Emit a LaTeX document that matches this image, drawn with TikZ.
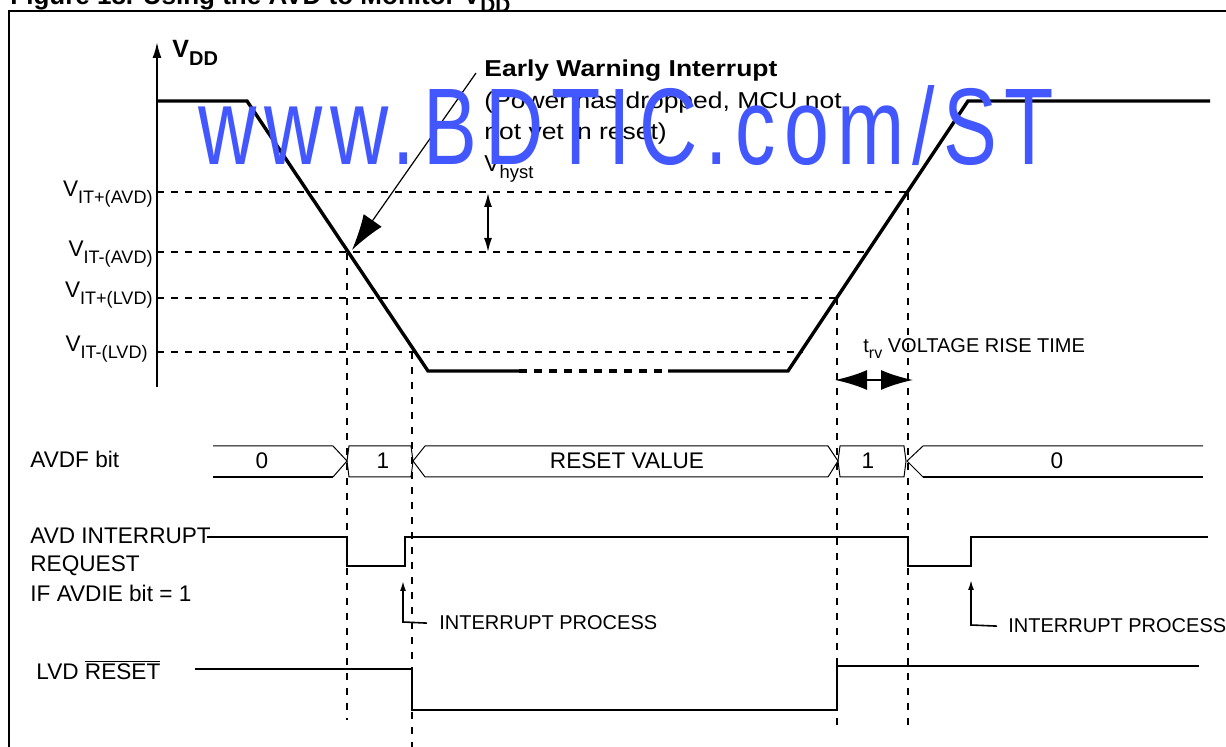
\documentclass[tikz,border=0pt]{standalone}
\usepackage{fontspec}
\setmainfont{Liberation Sans}
\usepackage{graphicx}
\usetikzlibrary{arrows.meta}
\definecolor{wmblue}{RGB}{66,87,255}
\newcommand{\lowsub}[1]{\raisebox{-0.3em}{\scalebox{0.8}{#1}}}

\begin{document}
\begin{tikzpicture}[x=0.5pt,y=-0.5pt,
  lbl/.style={inner sep=0pt, font=\fontsize{11.3}{13}\selectfont},
  smalllbl/.style={inner sep=0pt, font=\fontsize{10}{12}\selectfont},
  ewtext/.style={inner sep=0pt, anchor=base west, xscale=1.15, font=\fontsize{11.5}{13}\selectfont},
  vwave/.style={line width=1.7pt, line join=miter},
  vlevel/.style={line width=0.8pt, dash pattern=on 3.5pt off 3.5pt},
  vguide/.style={line width=1pt, dash pattern=on 3.5pt off 4pt},
  sig/.style={line width=1pt},
  bus/.style={line width=0.5pt},
  busbot/.style={line width=1pt}]
\useasboundingbox (0,0) rectangle (1226,747);
% frame and (cut) caption
\draw[line width=1pt] (9,747) -- (9,11) -- (1226,11);
\node[inner sep=0pt, anchor=base west, font=\bfseries\fontsize{13}{15}\selectfont] (title) at (10,5) {Figure 18. Using the AVD to Monitor V\lowsub{DD}};
% V_DD axis
\draw[line width=1pt, -{Latex[length=8pt,width=4.5pt]}] (157,387) -- (157,42);
\node[inner sep=0pt, anchor=base west, font=\bfseries\fontsize{12.5}{14}\selectfont] (vdd) at (172,58) {V\lowsub{DD}};
% threshold levels
\draw[vlevel] (157,192) -- (907,192);
\draw[vlevel] (157,252) -- (870,252);
\draw[vlevel] (157,298) -- (838,298);
\draw[vlevel] (157,352) -- (803,352);
\node[lbl, anchor=base east] (itpavd) at (153,197) {V\lowsub{IT+(AVD)}};
\node[lbl, anchor=base east] (itmavd) at (153,257) {V\lowsub{IT-(AVD)}};
\node[lbl, anchor=base east] (itplvd) at (153,298) {V\lowsub{IT+(LVD)}};
\node[lbl, anchor=base east] (itmlvd) at (148,352) {V\lowsub{IT-(LVD)}};
% supply curve
\draw[vwave] (157,101) -- (247,101) -- (428,371) -- (519,371);
\draw[vwave, dash pattern=on 4pt off 3.5pt] (519,371) -- (668,371);
\draw[vwave] (668,371) -- (788,371) -- (968,101) -- (1210,101);
% time marks
\draw[vguide] (347,253) -- (347,720);
\draw[vguide] (412,352) -- (412,747);
\draw[vguide] (837,298) -- (837,730);
\draw[vguide] (908,193) -- (908,730);
% early warning note
\node[ewtext, font=\bfseries\fontsize{11.5}{13}\selectfont] (ewi) at (484,77) {Early Warning Interrupt};
\node[ewtext] (ewi2) at (484,109) {(Power has dropped, MCU not};
\node[ewtext] (ewi3) at (484,140) {not yet in reset)};
\coordinate (ewstart) at (476,73);
\coordinate (ewtip) at (352,250);
\draw[line width=0.6pt, -{Latex[length=18pt,width=11pt]}] (ewstart) -- (ewtip);
% hysteresis
\node[inner sep=0pt, anchor=base west, font=\fontsize{11.5}{13}\selectfont] (vhyst) at (484,172) {V\lowsub{hyst}};
\coordinate (hyst1) at (488,193);
\coordinate (hyst2) at (488,252);
\draw[line width=0.8pt, {Latex[length=7pt,width=4pt]}-{Latex[length=7pt,width=4pt]}] (hyst1) -- (hyst2);
% rise time
\coordinate (trv1) at (835,380);
\coordinate (trv2) at (913,380);
\draw[line width=1pt, {Latex[length=16pt,width=10pt]}-{Latex[length=16pt,width=10pt]}] (trv1) -- (trv2);
\node[smalllbl, anchor=base west] (trv) at (863,353) {t\lowsub{rv} VOLTAGE RISE TIME};
% AVDF bit bus
\node[lbl, anchor=base west] (avdf) at (30,468) {AVDF bit};
\draw[bus] (213,446) -- (333,446) -- (347,461) -- (333,477);
\draw[busbot] (333,477) -- (213,477);
\draw[bus] (347,461) -- (349,446) -- (411,446) -- (413,461) -- (411,477) -- (349,477) -- cycle;
\draw[bus] (413,461) -- (425,446) -- (828,446) -- (838,461) -- (828,477) -- (425,477) -- cycle;
\draw[bus] (838,461) -- (840,446) -- (904,446) -- (906,461) -- (904,477) -- (840,477) -- cycle;
\draw[bus] (1203,446) -- (923,446) -- (907,461) -- (923,477);
\draw[busbot] (923,477) -- (1203,477);
\node[lbl] (bit0a) at (262,461) {0};
\node[lbl] (bit1a) at (383,461) {1};
\node[lbl] (bitrv) at (627,461) {RESET VALUE};
\node[lbl] (bit1b) at (868,461) {1};
\node[lbl] (bit0b) at (1057,461) {0};
% AVD interrupt request
\node[lbl, anchor=base west] (req1) at (30,544) {AVD INTERRUPT};
\node[lbl, anchor=base west] (req2) at (30,572) {REQUEST};
\node[lbl, anchor=base west] (req3) at (30,602) {IF AVDIE bit = 1};
\draw[sig] (207,537) -- (347,537) -- (347,566) -- (405,566) -- (405,537) -- (908,537) -- (908,566) -- (971,566) -- (971,537) -- (1208,537);
\node[smalllbl, anchor=base west] (ip1) at (439,630) {INTERRUPT PROCESS};
\node[smalllbl, anchor=base west] (ip2) at (1008,633) {INTERRUPT PROCESS};
\draw[line width=0.8pt, -{Latex[length=5pt,width=3pt]}] (ip1.west) ++(-12,0) -- (403,622) -- (403,581);
\draw[line width=0.8pt, -{Latex[length=5pt,width=3pt]}] (ip2.west) ++(-11,0) -- (971,625) -- (971,580);
% LVD reset
\node[lbl, anchor=base west] (lvd) at (36,680) {LVD $\overline{\mbox{RESET}}$};
\draw[sig] (195,669) -- (412,669) -- (412,710) -- (837,710) -- (837,666) -- (1199,666);
% watermark
\node[inner sep=0pt, anchor=base west, text=wmblue, xscale=0.74, font=\fontsize{54.5}{60}\selectfont\addfontfeature{LetterSpace=10}] (wm) at (198,165) {www.BDTIC.com/ST};
\end{tikzpicture}
\end{document}
